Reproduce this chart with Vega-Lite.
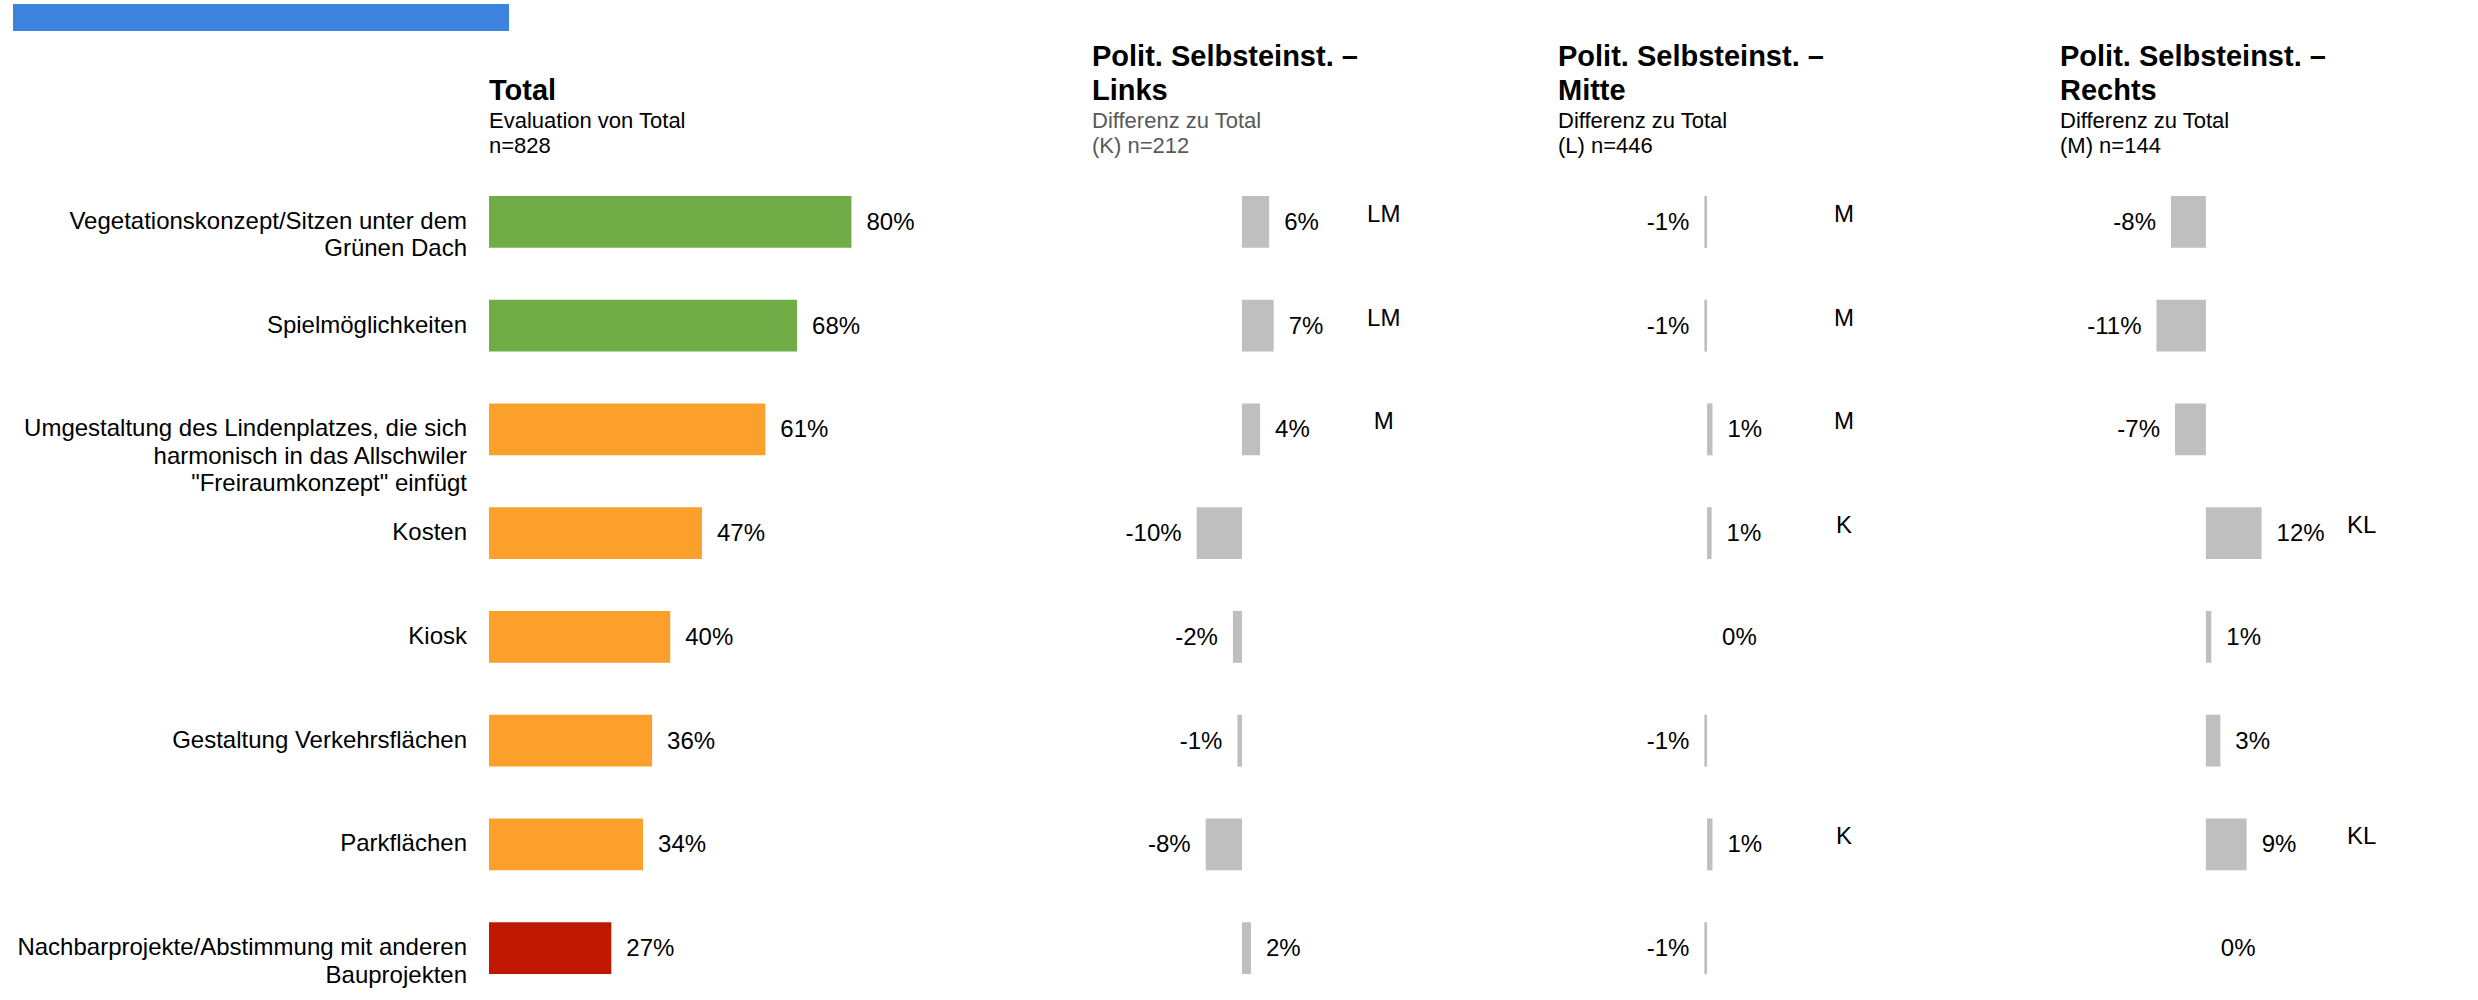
{
  "$schema": "https://vega.github.io/schema/vega-lite/v6.json",
  "background": "white",
  "padding": {"left": 13, "top": 4, "right": 0, "bottom": 0},
  "config": {
    "font": "Liberation Sans",
    "view": {"stroke": null},
    "locale": {"number": {"decimal": ".", "thousands": "'", "grouping": [3], "currency": ["", ""], "minus": "-"}},
    "title": {"anchor": "start", "frame": "group", "font": "Liberation Sans", "fontSize": 29, "fontWeight": "bold", "lineHeight": 34, "color": "black", "subtitleFont": "Liberation Sans", "subtitleFontSize": 22, "subtitleLineHeight": 25, "subtitleColor": "black", "subtitlePadding": 5, "offset": 13},
    "text": {"font": "Liberation Sans", "fontSize": 24, "color": "black"}
  },
  "data": {"values": [
    {"cat": "Vegetationskonzept/Sitzen unter dem|Grünen Dach", "total": 0.80, "klasse": "hoch", "links": 0.06, "mitte": -0.006, "rechts": -0.077, "sig_links": "LM", "sig_mitte": "M", "sig_rechts": ""},
    {"cat": "Spielmöglichkeiten", "total": 0.68, "klasse": "hoch", "links": 0.07, "mitte": -0.006, "rechts": -0.109, "sig_links": "LM", "sig_mitte": "M", "sig_rechts": ""},
    {"cat": "Umgestaltung des Lindenplatzes, die sich|harmonisch in das Allschwiler|\"Freiraumkonzept\" einfügt", "total": 0.61, "klasse": "mittel", "links": 0.04, "mitte": 0.012, "rechts": -0.068, "sig_links": "M", "sig_mitte": "M", "sig_rechts": ""},
    {"cat": "Kosten", "total": 0.47, "klasse": "mittel", "links": -0.10, "mitte": 0.010, "rechts": 0.123, "sig_links": "", "sig_mitte": "K", "sig_rechts": "KL"},
    {"cat": "Kiosk", "total": 0.40, "klasse": "mittel", "links": -0.02, "mitte": 0.0, "rechts": 0.012, "sig_links": "", "sig_mitte": "", "sig_rechts": ""},
    {"cat": "Gestaltung Verkehrsflächen", "total": 0.36, "klasse": "mittel", "links": -0.01, "mitte": -0.006, "rechts": 0.032, "sig_links": "", "sig_mitte": "", "sig_rechts": ""},
    {"cat": "Parkflächen", "total": 0.34, "klasse": "mittel", "links": -0.08, "mitte": 0.012, "rechts": 0.09, "sig_links": "", "sig_mitte": "K", "sig_rechts": "KL"},
    {"cat": "Nachbarprojekte/Abstimmung mit anderen|Bauprojekten", "total": 0.27, "klasse": "tief", "links": 0.02, "mitte": -0.006, "rechts": 0.0, "sig_links": "", "sig_mitte": "", "sig_rechts": ""}
  ]},
  "spacing": 12,
  "vconcat": [
    {
      "width": 496, "height": 27,
      "view": {"fill": "#3d82dc", "stroke": null},
      "mark": {"type": "point", "opacity": 0},
      "encoding": {}
    },
    {
      "spacing": 0,
      "hconcat": [
        {
          "width": 475, "height": 830,
          "mark": {"type": "text", "align": "right", "baseline": "middle", "dx": -21, "lineBreak": "|", "lineHeight": 27.5},
          "encoding": {
            "y": {"field": "cat", "type": "nominal", "sort": null, "scale": {"paddingInner": 0.5, "paddingOuter": 0.25}, "axis": null},
            "x": {"datum": 1, "type": "quantitative", "scale": {"domain": [0, 1], "nice": false}, "axis": null},
            "text": {"field": "cat", "type": "nominal"}
          }
        },
        {
          "width": 603, "height": 830,
          "title": {"text": "Total", "subtitle": ["Evaluation von Total", "n=828"]},
          "encoding": {"y": {"field": "cat", "type": "nominal", "sort": null, "scale": {"paddingInner": 0.5, "paddingOuter": 0.25}, "axis": null}},
          "layer": [
            {"mark": {"type": "bar"}, "encoding": {
              "x": {"field": "total", "type": "quantitative", "scale": {"domain": [0, 1.331], "nice": false}, "axis": null},
              "x2": {"datum": 0},
              "color": {"field": "klasse", "type": "nominal", "scale": {"domain": ["hoch", "mittel", "tief"], "range": ["#70ad47", "#fba02a", "#c01800"]}, "legend": null}}},
            {"mark": {"type": "text", "align": "left", "baseline": "middle", "dx": 15, "dy": 1}, "encoding": {
              "x": {"field": "total", "type": "quantitative"},
              "text": {"field": "total", "type": "quantitative", "format": ".0%"}}},
            {"mark": {"type": "rule", "color": "#8c8c8c", "strokeWidth": 2}, "encoding": {"x": {"datum": 0}}}
          ]
        },
        {
          "width": 466, "height": 830,
          "title": {"text": ["Polit. Selbsteinst. –", "Links"], "subtitle": ["Differenz zu Total", "(K) n=212"], "subtitleColor": "#595959"},
          "encoding": {"y": {"field": "cat", "type": "nominal", "sort": null, "scale": {"paddingInner": 0.5, "paddingOuter": 0.25}, "axis": null}},
          "layer": [
            {"mark": {"type": "bar", "color": "#bfbfbf"}, "encoding": {
              "x": {"field": "links", "type": "quantitative", "scale": {"domain": [-0.331, 0.6976], "nice": false}, "axis": null},
              "x2": {"datum": 0}}},
            {"transform": [{"filter": "datum.links >= 0"}], "mark": {"type": "text", "align": "left", "baseline": "middle", "dx": 15, "dy": 1}, "encoding": {
              "x": {"field": "links", "type": "quantitative"},
              "text": {"field": "links", "type": "quantitative", "format": ".0%"}}},
            {"transform": [{"filter": "datum.links < 0"}], "mark": {"type": "text", "align": "right", "baseline": "middle", "dx": -15, "dy": 1}, "encoding": {
              "x": {"field": "links", "type": "quantitative"},
              "text": {"field": "links", "type": "quantitative", "format": ".0%"}}},
            {"mark": {"type": "text", "align": "center", "baseline": "middle", "dy": -7}, "encoding": {
              "x": {"datum": 0.313},
              "text": {"field": "sig_links", "type": "nominal"}}},
            {"mark": {"type": "rule", "color": "#8c8c8c", "strokeWidth": 2}, "encoding": {"x": {"datum": 0}}}
          ]
        },
        {
          "width": 502, "height": 830,
          "title": {"text": ["Polit. Selbsteinst. –", "Mitte"], "subtitle": ["Differenz zu Total", "(L) n=446"]},
          "encoding": {"y": {"field": "cat", "type": "nominal", "sort": null, "scale": {"paddingInner": 0.5, "paddingOuter": 0.25}, "axis": null}},
          "layer": [
            {"mark": {"type": "bar", "color": "#bfbfbf"}, "encoding": {
              "x": {"field": "mitte", "type": "quantitative", "scale": {"domain": [-0.329, 0.779], "nice": false}, "axis": null},
              "x2": {"datum": 0}}},
            {"transform": [{"filter": "datum.mitte >= 0"}], "mark": {"type": "text", "align": "left", "baseline": "middle", "dx": 15, "dy": 1}, "encoding": {
              "x": {"field": "mitte", "type": "quantitative"},
              "text": {"field": "mitte", "type": "quantitative", "format": ".0%"}}},
            {"transform": [{"filter": "datum.mitte < 0"}], "mark": {"type": "text", "align": "right", "baseline": "middle", "dx": -15, "dy": 1}, "encoding": {
              "x": {"field": "mitte", "type": "quantitative"},
              "text": {"field": "mitte", "type": "quantitative", "format": ".0%"}}},
            {"mark": {"type": "text", "align": "center", "baseline": "middle", "dy": -7}, "encoding": {
              "x": {"datum": 0.302},
              "text": {"field": "sig_mitte", "type": "nominal"}}},
            {"mark": {"type": "rule", "color": "#8c8c8c", "strokeWidth": 2}, "encoding": {"x": {"datum": 0}}}
          ]
        },
        {
          "width": 400, "height": 830,
          "title": {"text": ["Polit. Selbsteinst. –", "Rechts"], "subtitle": ["Differenz zu Total", "(M) n=144"]},
          "encoding": {"y": {"field": "cat", "type": "nominal", "sort": null, "scale": {"paddingInner": 0.5, "paddingOuter": 0.25}, "axis": null}},
          "layer": [
            {"mark": {"type": "bar", "color": "#bfbfbf"}, "encoding": {
              "x": {"field": "rechts", "type": "quantitative", "scale": {"domain": [-0.322, 0.561], "nice": false}, "axis": null},
              "x2": {"datum": 0}}},
            {"transform": [{"filter": "datum.rechts >= 0"}], "mark": {"type": "text", "align": "left", "baseline": "middle", "dx": 15, "dy": 1}, "encoding": {
              "x": {"field": "rechts", "type": "quantitative"},
              "text": {"field": "rechts", "type": "quantitative", "format": ".0%"}}},
            {"transform": [{"filter": "datum.rechts < 0"}], "mark": {"type": "text", "align": "right", "baseline": "middle", "dx": -15, "dy": 1}, "encoding": {
              "x": {"field": "rechts", "type": "quantitative"},
              "text": {"field": "rechts", "type": "quantitative", "format": ".0%"}}},
            {"mark": {"type": "text", "align": "center", "baseline": "middle", "dy": -7}, "encoding": {
              "x": {"datum": 0.344},
              "text": {"field": "sig_rechts", "type": "nominal"}}},
            {"mark": {"type": "rule", "color": "#8c8c8c", "strokeWidth": 2}, "encoding": {"x": {"datum": 0}}}
          ]
        }
      ]
    }
  ]
}
